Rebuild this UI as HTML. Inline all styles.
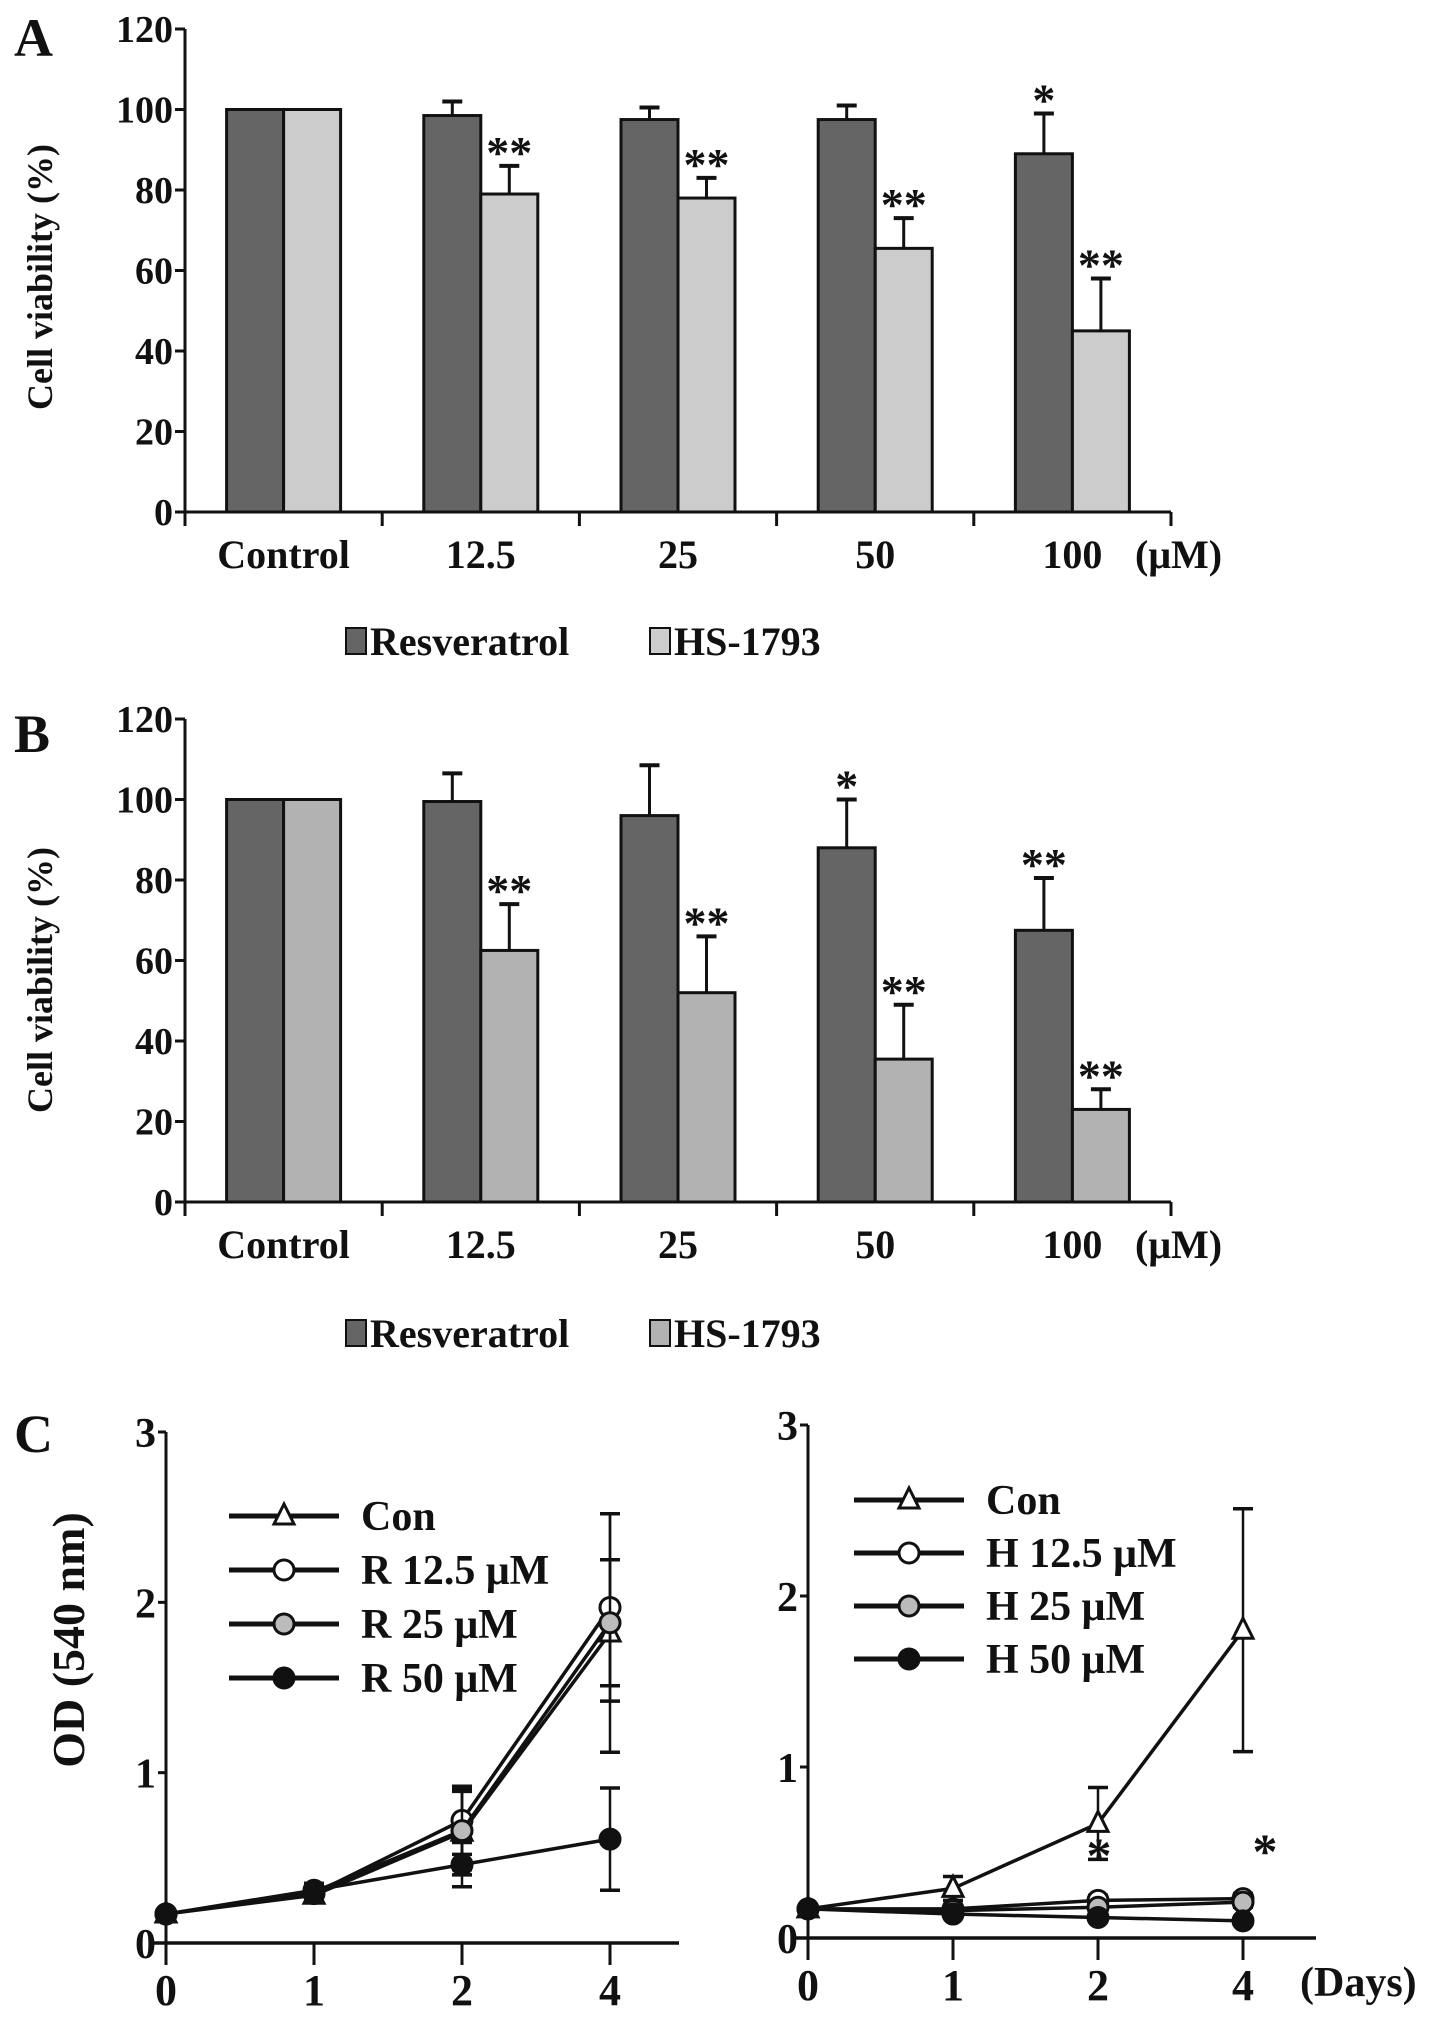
<!DOCTYPE html>
<html><head><meta charset="utf-8"><style>
html,body{margin:0;padding:0;background:#fff;}
svg{display:block;}
text{font-family:"Liberation Serif",serif;font-weight:bold;fill:#111;}
</style></head><body>
<svg id="fig" width="1441" height="2024" viewBox="0 0 1441 2024" xmlns="http://www.w3.org/2000/svg">
<text x="14" y="56" font-size="54">A</text>
<text x="14" y="752" font-size="54">B</text>
<text x="14" y="1452" font-size="54" font-weight="normal">C</text>
</svg>
<script>
const categories = ["Control","12.5","25","50","100"];
const yTicksBar = [0,20,40,60,80,100,120];
const aRes = [100,98.5,97.5,97.5,89];
const aResErr = [0,3.5,3,3.5,10];
const aHS = [100,79,78,65.5,45];
const aHSErr = [0,7,5,7.5,13];
const aResSig = ["","","","","*"];
const aHSSig = ["","**","**","**","**"];
const bRes = [100,99.5,96,88,67.5];
const bResErr = [0,7,12.5,12,13];
const bHS = [100,62.5,52,35.5,23];
const bHSErr = [0,11.5,14,13.5,5];
const bResSig = ["","","","*","**"];
const bHSSig = ["","**","**","**","**"];

const days = [0,1,2,4];
const yTicksOD = [0,1,2,3];
const rCon = [0.17,0.28,0.65,1.82];
const rConErr = [0.02,0.04,0.25,0.7];
const r125 = [0.17,0.29,0.72,1.97];
const r125Err = [0.02,0.04,0.2,0.55];
const r25 = [0.17,0.3,0.66,1.88];
const r25Err = [0.02,0.05,0.23,0.37];
const r50 = [0.17,0.31,0.46,0.61];
const r50Err = [0.02,0.04,0.13,0.3];
const hCon = [0.17,0.29,0.67,1.8];
const hConErr = [0.02,0.07,0.21,0.71];
const h125 = [0.17,0.17,0.22,0.23];
const h125Err = [0.02,0.02,0.03,0.03];
const h25 = [0.17,0.16,0.18,0.21];
const h25Err = [0.02,0.02,0.03,0.03];
const h50 = [0.17,0.14,0.12,0.1];
const h50Err = [0.02,0.02,0.02,0.02];

const svg = document.getElementById('fig');
const NS = 'http://www.w3.org/2000/svg';
function mk(tag, attrs, parent){
  const e = document.createElementNS(NS, tag);
  for (const k in attrs) e.setAttribute(k, attrs[k]);
  (parent||svg).appendChild(e);
  return e;
}
function txt(x,y,s,size,anchor,parent){
  const t = mk('text',{x:x,y:y,'font-size':size,'text-anchor':anchor||'middle'},parent);
  t.textContent = s;
  return t;
}

function barPanel(id, top0, top120, res, resErr, hs, hsErr, resSig, hsSig, hsColor, legendY, yLabelCy){
  const g = mk('g',{});
  
  
  const x0 = 185, x1 = 1171;
  const step = (x1-x0)/categories.length;
  const y = v => top0 - (top0-top120)*v/120;
  const bw = 57;
  const ax = mk('line',{x1:x0,y1:top120,x2:x0,y2:top0,stroke:'#111','stroke-width':3},g);
  
  
  yTicksBar.forEach(v=>{
    mk('line',{x1:x0-10,y1:y(v),x2:x0,y2:y(v),stroke:'#111','stroke-width':3},g);
    const t = txt(x0-12,y(v)+13,String(v),38,'end',g);
    
    
  });
  categories.forEach((c,i)=>{
    const cx = x0 + step*(i+0.5);
    const bars = [[res[i],resErr[i],resSig[i],'#656565',cx-bw],[hs[i],hsErr[i],hsSig[i],hsColor,cx]];
    bars.forEach(([v,e,s,col,bx],j)=>{
      const r = mk('rect',{x:bx,y:y(v),width:bw,height:top0-y(v),fill:col,stroke:'#111','stroke-width':3},g);
      
      
      if (e>0){
        mk('line',{x1:bx+bw/2,y1:y(v),x2:bx+bw/2,y2:y(v+e),stroke:'#111','stroke-width':3},g);
        mk('line',{x1:bx+bw/2-10,y1:y(v+e),x2:bx+bw/2+10,y2:y(v+e),stroke:'#111','stroke-width':4},g);
      }
      if (s){
        const st = txt(bx+bw/2,y(v+e)+2,s,46,'middle',g);
        
        
      }
    });
    const lb = txt(cx,top0+56,c,40,'middle',g);
    
    
  });
  mk('line',{x1:x0,y1:top0,x2:x1,y2:top0,stroke:'#111','stroke-width':3},g);
  for (let i=0;i<=categories.length;i++){
    mk('line',{x1:x0+step*i,y1:top0,x2:x0+step*i,y2:top0+14,stroke:'#111','stroke-width':3},g);
  }
  const u = txt(1135,top0+56,'(μM)',40,'start',g);
  
  
  const yl = txt(0,0,'Cell viability (%)',36,'middle',g);
  yl.setAttribute('transform','translate(52,'+yLabelCy+') rotate(-90)');
  yl.setAttribute('font-family','"Liberation Sans",sans-serif');
  
  
  const l1 = mk('rect',{x:346,y:legendY-15,width:20,height:26,fill:'#656565',stroke:'#111','stroke-width':2},g);
  
  
  const lt1 = txt(370,legendY+12,'Resveratrol',40,'start',g);
  
  
  const l2 = mk('rect',{x:650,y:legendY-15,width:20,height:26,fill:hsColor,stroke:'#111','stroke-width':2},g);
  
  
  const lt2 = txt(674,legendY+12,'HS-1793',40,'start',g);
  
  
}
barPanel('panel-a-chart',512,29,aRes,aResErr,aHS,aHSErr,aResSig,aHSSig,'#cccccc',643,277);
barPanel('panel-b-chart',1202,719,bRes,bResErr,bHS,bHSErr,bResSig,bHSSig,'#b2b2b2',1335,980);

function linePanel(id, ax0, dayX, xEnd, y0, y3, series, legendX, legendY0, legendDy, labels){
  const g = mk('g',{});
  
  
  const px = d => ax0 + (dayX-ax0)*days.indexOf(d);
  const py = v => y0 - (y0-y3)*v/3;
  mk('line',{x1:ax0,y1:y3,x2:ax0,y2:y0+20,stroke:'#111','stroke-width':3},g);
  yTicksOD.forEach(v=>{
    mk('line',{x1:ax0-8,y1:py(v),x2:ax0,y2:py(v),stroke:'#111','stroke-width':3},g);
    const t = txt(ax0-10,py(v)+15,String(v),42,'end',g);
    
    
  });
  mk('line',{x1:ax0-14,y1:y0,x2:xEnd,y2:y0,stroke:'#111','stroke-width':3.5},g);
  days.forEach(d=>{
    mk('line',{x1:px(d),y1:y0,x2:px(d),y2:y0+22,stroke:'#111','stroke-width':3},g);
    const t = txt(px(d),y0+62,String(d),44,'middle',g);
    
    
  });
  series.forEach(([vals,errs,marker],si)=>{
    const pts = vals.map((v,i)=>px(days[i])+','+py(v)).join(' ');
    const pl = mk('polyline',{points:pts,fill:'none',stroke:'#111','stroke-width':3.5},g);
    
    
    vals.forEach((v,i)=>{
      const x = px(days[i]);
      mk('line',{x1:x,y1:py(v-errs[i]),x2:x,y2:py(v+errs[i]),stroke:'#111','stroke-width':2.5},g);
      mk('line',{x1:x-10,y1:py(v+errs[i]),x2:x+10,y2:py(v+errs[i]),stroke:'#111','stroke-width':3.5},g);
      mk('line',{x1:x-10,y1:py(v-errs[i]),x2:x+10,y2:py(v-errs[i]),stroke:'#111','stroke-width':3.5},g);
      const m = drawMarker(marker,x,py(v),g);
      
      
    });
    const ly = legendY0 + legendDy*si;
    mk('line',{x1:legendX,y1:ly,x2:legendX+110,y2:ly,stroke:'#111','stroke-width':5},g);
    drawMarker(marker,legendX+55,ly,g);
    const lt = txt(legendX+132,ly+14,labels[si],42,'start',g);
    
    
  });
  return {g,px,py};
}
function drawMarker(type,x,y,g){
  if (type==='tri') return mk('polygon',{points:(x)+','+(y-12)+' '+(x-10)+','+(y+8)+' '+(x+10)+','+(y+8),fill:'#fff',stroke:'#111','stroke-width':3},g);
  const fill = type==='open'?'#fff':type==='grey'?'#bbb':'#111';
  return mk('circle',{cx:x,cy:y,r:10,fill:fill,stroke:'#111','stroke-width':3},g);
}
linePanel('panel-c-left-chart',166,314,679,1943,1432,
  [[rCon,rConErr,'tri'],[r125,r125Err,'open'],[r25,r25Err,'grey'],[r50,r50Err,'black']],
  229,1516,54,['Con','R 12.5 μM','R 25 μM','R 50 μM']);
linePanel('panel-c-right-chart',808,953,1316,1938,1425,
  [[hCon,hConErr,'tri'],[h125,h125Err,'open'],[h25,h25Err,'grey'],[h50,h50Err,'black']],
  854,1500,53,['Con','H 12.5 μM','H 25 μM','H 50 μM']);
const s1 = txt(1099,1872,'*',50,'middle');


const s2 = txt(1265,1868,'*',50,'middle');


const days_l = txt(1300,1996,'(Days)',42,'start');


const odl = txt(0,0,'OD (540 nm)',46,'middle');
odl.setAttribute('transform','translate(84,1640) rotate(-90)');
odl.setAttribute('font-family','"Liberation Sans",sans-serif');


</script>
</body></html>
